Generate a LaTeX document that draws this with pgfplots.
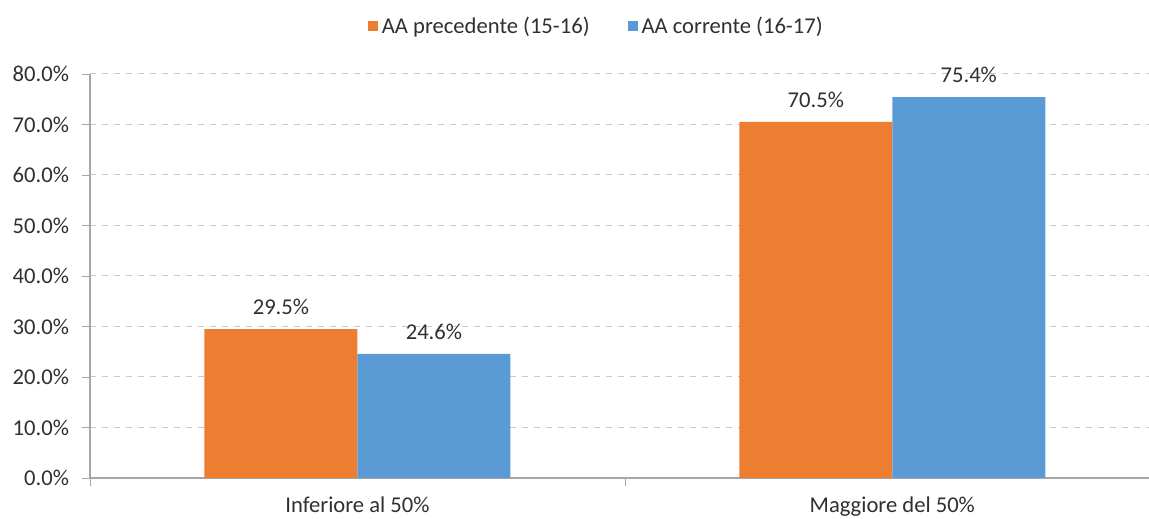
\documentclass[border=0pt]{standalone}
\usepackage{pgfplots}
\pgfplotsset{compat=1.18}
\usepackage{fontspec}
\setmainfont{Carlito}

\definecolor{xlorange}{HTML}{ED7D31}
\definecolor{xlblue}{HTML}{5B9BD5}
\definecolor{axisgray}{HTML}{A6A6A6}
\definecolor{gridgray}{HTML}{C8C8C8}
\definecolor{txt}{HTML}{303030}

\begin{document}
\begin{tikzpicture}
\begin{axis}[
  name=ax,
  scale only axis,
  width=529.5pt, height=202pt,
  font=\fontsize{11.3}{13}\selectfont,
  ybar, bar width=0.286,
  xmin=-0.5, xmax=1.48,
  ymin=0, ymax=80,
  ytick={0,10,...,80},
  yticklabel={\pgfmathprintnumber[fixed,fixed zerofill,precision=1]{\tick}\%},
  yticklabel style={xshift=-3pt},
  xticklabel style={yshift=-2pt},
  /pgf/number format/assume math mode=true,
  xtick={0,1},
  xticklabels={Inferiore al 50\%, Maggiore del 50\%},
  minor xtick={-0.5,0.5,1.5},
  major x tick style={draw=none},
  minor x tick style={draw=axisgray},
  tick align=outside,
  major tick length=4pt, minor tick length=4pt,
  ytick style={draw=axisgray},
  axis x line*=bottom, axis y line*=left,
  axis line style={draw=axisgray, line width=0.6pt},
  ymajorgrids,
  grid style={gridgray, dashed, line width=0.5pt},
  tick label style={text=txt},
  enlarge x limits=false,
  clip=false,
  nodes near coords={\pgfmathprintnumber[fixed,fixed zerofill,precision=1]{\pgfplotspointmeta}\%},
  every node near coord/.append style={text=txt, yshift=3.5pt},
  legend columns=2,
  legend style={draw=none, fill=none, at={(0.479,1.118)}, anchor=center,
    text=txt, /tikz/every even column/.append style={column sep=17pt}},
  legend image code/.code={\fill[#1] (0pt,-2.5pt) rectangle (5pt,2.5pt);},
]
\addplot[fill=xlorange, draw=none, bar shift=-0.143] coordinates {(0,29.5) (1,70.5)};
\addplot[fill=xlblue, draw=none, bar shift=0.143] coordinates {(0,24.6) (1,75.4)};
\legend{AA precedente (15-16), AA corrente (16-17)}
\end{axis}
\pgfresetboundingbox
\path ([xshift=-45pt,yshift=-20.5pt]ax.south west) rectangle ([yshift=37pt]ax.north east);
\end{tikzpicture}
\end{document}
